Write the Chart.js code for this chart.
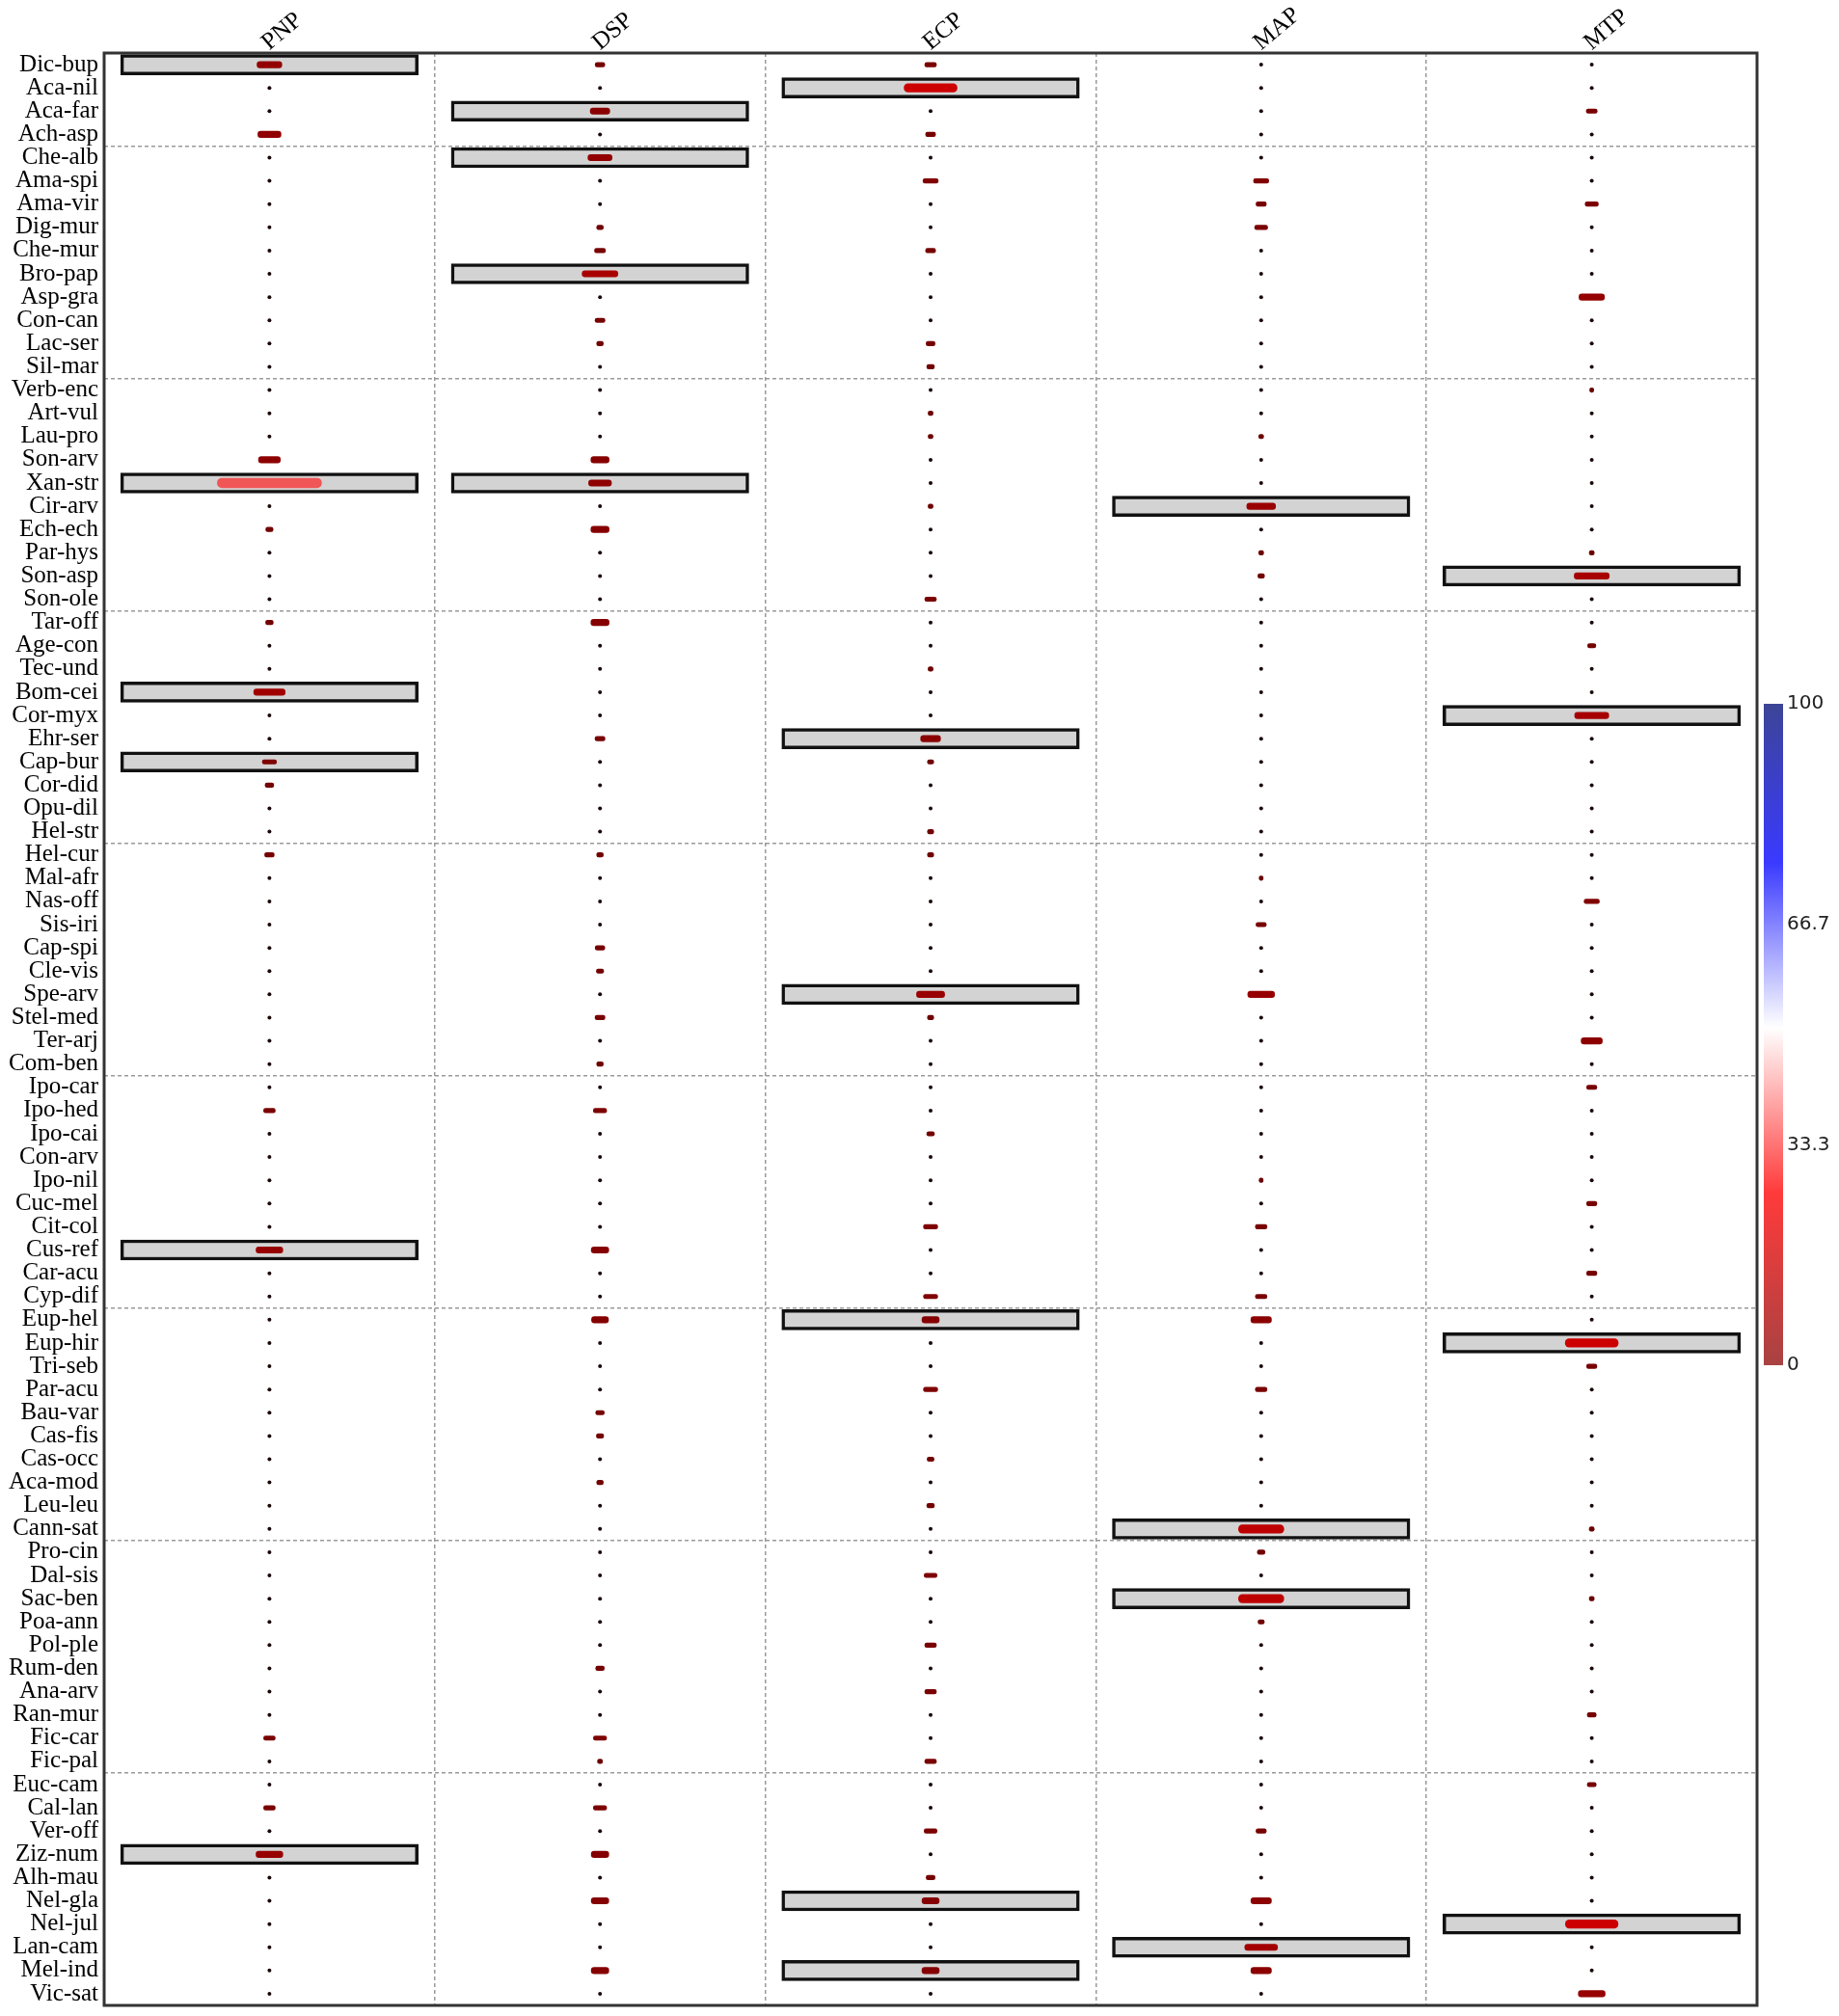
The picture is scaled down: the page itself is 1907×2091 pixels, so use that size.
<!DOCTYPE html>
<html>
<head>
<meta charset="utf-8">
<script src="https://cdn.jsdelivr.net/npm/chart.js@4.4.1/dist/chart.umd.min.js"></script>
<style>
  html, body { margin: 0; padding: 0; background: #fff; }
  #area { width: 1907px; height: 2091px; }
</style>
</head>
<body>
<div id="area"><canvas id="grafico" width="1907" height="2091"></canvas></div>
<script>
// Espécies (linhas), de cima para baixo
const especies = [
  "Dic-bup", "Aca-nil", "Aca-far", "Ach-asp",
  "Che-alb", "Ama-spi", "Ama-vir", "Dig-mur", "Che-mur", "Bro-pap", "Asp-gra", "Con-can", "Lac-ser", "Sil-mar",
  "Verb-enc", "Art-vul", "Lau-pro", "Son-arv", "Xan-str", "Cir-arv", "Ech-ech", "Par-hys", "Son-asp", "Son-ole",
  "Tar-off", "Age-con", "Tec-und", "Bom-cei", "Cor-myx", "Ehr-ser", "Cap-bur", "Cor-did", "Opu-dil", "Hel-str",
  "Hel-cur", "Mal-afr", "Nas-off", "Sis-iri", "Cap-spi", "Cle-vis", "Spe-arv", "Stel-med", "Ter-arj", "Com-ben",
  "Ipo-car", "Ipo-hed", "Ipo-cai", "Con-arv", "Ipo-nil", "Cuc-mel", "Cit-col", "Cus-ref", "Car-acu", "Cyp-dif",
  "Eup-hel", "Eup-hir", "Tri-seb", "Par-acu", "Bau-var", "Cas-fis", "Cas-occ", "Aca-mod", "Leu-leu", "Cann-sat",
  "Pro-cin", "Dal-sis", "Sac-ben", "Poa-ann", "Pol-ple", "Rum-den", "Ana-arv", "Ran-mur", "Fic-car", "Fic-pal",
  "Euc-cam", "Cal-lan", "Ver-off", "Ziz-num", "Alh-mau", "Nel-gla", "Nel-jul", "Lan-cam", "Mel-ind", "Vic-sat"
];

const colunas = ["PNP", "DSP", "ECP", "MAP", "MTP"];

// Primeira espécie de cada grupo (linha tracejada acima dela)
const inicioGrupos = ["Che-alb", "Verb-enc", "Tar-off", "Hel-cur", "Ipo-car", "Eup-hel", "Pro-cin", "Euc-cam"];

// Valores por coluna (mesma ordem de especies)
const valoresPNP = [
  7.5, 0, 0, 7,
  0, 0, 0, 0, 0, 0, 0, 0, 0, 0,
  0, 0, 0, 6.6, 31.5, 0, 2.2, 0, 0, 0,
  2.3, 0, 0, 9.5, 0, 0, 4.3, 2.6, 0, 0,
  2.9, 0, 0, 0, 0, 0, 0, 0, 0, 0,
  0, 3.5, 0, 0, 0, 0, 0, 8.1, 0, 0,
  0, 0, 0, 0, 0, 0, 0, 0, 0, 0,
  0, 0, 0, 0, 0, 0, 0, 0, 3.5, 0,
  0, 3.5, 0, 8.1, 0, 0, 0, 0, 0, 0
];
const valoresDSP = [
  2.9, 0, 5.9, 0,
  7.3, 0, 0, 2.0, 3.3, 10.8, 0, 3.0, 2.0, 0,
  0, 0, 0, 5.5, 6.9, 0, 5.5, 0, 0, 0,
  5.5, 0, 0, 0, 0, 3.0, 0, 0, 0, 0,
  2.0, 0, 0, 0, 2.9, 2.2, 0, 3.0, 0, 2.0,
  0, 4.0, 0, 0, 0, 0, 0, 5.3, 0, 0,
  5.1, 0, 0, 0, 2.6, 2.2, 0, 2.0, 0, 0,
  0, 0, 0, 0, 0, 2.6, 0, 0, 4.0, 1.5,
  0, 4.0, 0, 5.3, 0, 5.3, 0, 0, 5.3, 0
];
const valoresECP = [
  3.5, 16, 0, 3.0,
  0, 4.6, 0, 0, 3.0, 0, 0, 0, 2.7, 2.3,
  0, 1.5, 1.5, 0, 0, 1.5, 0, 0, 0, 3.5,
  0, 0, 1.5, 0, 0, 6.0, 1.9, 0, 0, 1.9,
  1.9, 0, 0, 0, 0, 0, 8.5, 1.9, 0, 0,
  0, 0, 2.3, 0, 0, 0, 4.3, 0, 0, 4.3,
  5.2, 0, 0, 4.3, 0, 0, 2.1, 0, 2.3, 0,
  0, 3.9, 0, 0, 3.5, 0, 3.5, 0, 0, 3.5,
  0, 0, 3.9, 0, 2.7, 5.2, 0, 0, 5.2, 0
];
const valoresMAP = [
  0, 0, 0, 0,
  0, 4.6, 3.1, 3.9, 0, 0, 0, 0, 0, 0,
  0, 0, 1.5, 0, 0, 8.7, 0, 1.5, 2.0, 0,
  0, 0, 0, 0, 0, 0, 0, 0, 0, 0,
  0, 1.2, 0, 3.1, 0, 0, 8.1, 0, 0, 0,
  0, 0, 0, 0, 1.2, 0, 3.5, 0, 0, 3.5,
  6.2, 0, 0, 3.5, 0, 0, 0, 0, 0, 13.7,
  2.3, 0, 13.7, 1.9, 0, 0, 0, 0, 0, 0,
  0, 0, 3.1, 0, 0, 6.2, 0, 9.9, 6.2, 0
];
const valoresMTP = [
  0, 0, 3.3, 0,
  0, 0, 4.0, 0, 0, 0, 7.7, 0, 0, 0,
  1.2, 0, 0, 0, 0, 0, 0, 1.5, 10.6, 0,
  0, 2.5, 0, 0, 10.3, 0, 0, 0, 0, 0,
  0, 0, 4.6, 0, 0, 0, 0, 0, 6.4, 0,
  3.1, 0, 0, 0, 0, 3.1, 0, 0, 3.1, 0,
  0, 16, 3.1, 0, 0, 0, 0, 0, 0, 1.5,
  0, 0, 1.5, 0, 0, 0, 0, 2.7, 0, 0,
  2.7, 0, 0, 0, 0, 0, 15.9, 0, 0, 8.1
];

// Células destacadas (caixa cinza) por coluna
const destaquePNP = ["Dic-bup", "Xan-str", "Bom-cei", "Cap-bur", "Cus-ref", "Ziz-num"];
const destaqueDSP = ["Aca-far", "Che-alb", "Bro-pap", "Xan-str"];
const destaqueECP = ["Aca-nil", "Ehr-ser", "Spe-arv", "Eup-hel", "Nel-gla", "Mel-ind"];
const destaqueMAP = ["Cir-arv", "Cann-sat", "Sac-ben", "Lan-cam"];
const destaqueMTP = ["Son-asp", "Cor-myx", "Eup-hir", "Nel-jul"];

// Escala de cores (legenda)
const escalaTicks = [0, 33.3, 66.7, 100];

const valores = [valoresPNP, valoresDSP, valoresECP, valoresMAP, valoresMTP];
const destaques = [destaquePNP, destaqueDSP, destaqueECP, destaqueMAP, destaqueMTP];

const paradasBarra = [
  [0, "#a84242"], [0.26, "#ff3a3a"], [0.51, "#ffffff"], [0.76, "#3a3aff"], [1, "#3c4496"]
];
const rampaElipse = [
  [0, [100, 0, 0]], [8, [150, 0, 0]], [16, [205, 0, 0]], [24, [232, 50, 50]], [34, [244, 98, 98]]
];

function corElipse(v) {
  for (let i = 1; i < rampaElipse.length; i++) {
    const [v1, c1] = rampaElipse[i];
    const [v0, c0] = rampaElipse[i - 1];
    if (v <= v1 || i === rampaElipse.length - 1) {
      const t = Math.max(0, Math.min(1, (v - v0) / (v1 - v0)));
      const c = c0.map((x, k) => Math.round(x + (c1[k] - x) * t));
      return `rgb(${c[0]},${c[1]},${c[2]})`;
    }
  }
}

// espessura das elipses por faixa de valor
const faixas = [
  { min: 0, max: 5, alt: 4.5 },
  { min: 5, max: 12, alt: 6.5 },
  { min: 12, max: 20, alt: 8.5 },
  { min: 20, max: 999, alt: 10 }
];

const datasets = [];
colunas.forEach((col, c) => {
  datasets.push({
    type: "bar", indexAxis: "y", grouped: false, order: 3,
    xAxisID: "x", yAxisID: "y",
    data: especies.map(e => destaques[c].includes(e) ? [c + 0.05, c + 0.95] : null),
    backgroundColor: "#d3d3d3",
    borderColor: "#111",
    borderWidth: 3.5,
    borderSkipped: false,
    categoryPercentage: 1, barPercentage: 1, maxBarThickness: 21
  });
  faixas.forEach(f => {
    datasets.push({
      type: "bar", indexAxis: "y", grouped: false, order: 1,
      xAxisID: "x", yAxisID: "y",
      data: valores[c].map(v => (v > 0 && v >= f.min && v < f.max) ? [c + 0.5 - v / 200, c + 0.5 + v / 200] : null),
      backgroundColor: ctx => corElipse(valores[c][ctx.dataIndex]),
      borderWidth: 0,
      borderRadius: 20,
      borderSkipped: false,
      categoryPercentage: 1, barPercentage: 1, maxBarThickness: f.alt
    });
  });
});

datasets.push({
  type: "scatter", order: 2,
  xAxisID: "x", yAxisID: "y",
  data: colunas.flatMap((col, c) => especies.map(e => ({ x: c + 0.5, y: e }))),
  pointRadius: 2,
  pointHoverRadius: 2,
  backgroundColor: "#1a0808",
  borderWidth: 0
});

const molduraEEscala = {
  id: "molduraEEscala",
  afterDraw(chart) {
    const { ctx, chartArea: a } = chart;
    ctx.save();
    ctx.strokeStyle = "#333";
    ctx.lineWidth = 3;
    ctx.strokeRect(a.left, a.top, a.right - a.left, a.bottom - a.top);

    // barra de cores à direita
    const x0 = a.right + 7, w = 20, yTopo = 730, yBase = 1416;
    const grad = ctx.createLinearGradient(0, yBase, 0, yTopo);
    paradasBarra.forEach(([p, cor]) => grad.addColorStop(p, cor));
    ctx.fillStyle = grad;
    ctx.fillRect(x0, yTopo, w, yBase - yTopo);
    ctx.fillStyle = "#222";
    ctx.font = "20px 'DejaVu Sans'";
    ctx.textBaseline = "middle";
    ctx.textAlign = "left";
    escalaTicks.forEach(t => {
      const y = yBase - (t / 100) * (yBase - yTopo);
      ctx.fillText(String(t), x0 + w + 4, y);
    });
    ctx.restore();
  }
};

const fonteRotulo = { family: "'Liberation Serif', 'Times New Roman', serif", size: 25 };

new Chart(document.getElementById("grafico"), {
  type: "bar",
  data: { labels: especies, datasets },
  options: {
    responsive: false,
    devicePixelRatio: 1,
    animation: false,
    layout: { autoPadding: false, padding: { left: 0, top: 0, right: 85, bottom: 11 } },
    plugins: { legend: { display: false }, tooltip: { enabled: false } },
    scales: {
      x: {
        type: "linear", min: 0, max: 5, position: "bottom", offset: false,
        ticks: { display: false, stepSize: 1 },
        grid: {
          offset: false,
          drawTicks: false,
          lineWidth: 1.5,
          color: ctx => (ctx.tick && ctx.tick.value > 0 && ctx.tick.value < 5) ? "#9a9a9a" : "rgba(0,0,0,0)"
        },
        border: { display: false, dash: [4, 3] },
        afterFit: s => { s.height = 0; }
      },
      xTop: {
        type: "category", labels: colunas, position: "top", offset: true,
        grid: { display: false, drawTicks: false },
        border: { display: false },
        ticks: { minRotation: 40, maxRotation: 40, font: fonteRotulo, color: "#000", padding: -4, labelOffset: 15 },
        afterFit: s => { s.height = 55; }
      },
      y: {
        type: "category", labels: especies, offset: true,
        grid: {
          offset: true,
          drawTicks: false,
          lineWidth: 1.5,
          color: ctx => inicioGrupos.includes(especies[ctx.index]) ? "#9a9a9a" : "rgba(0,0,0,0)"
        },
        border: { display: false, dash: [4, 3] },
        ticks: { autoSkip: false, font: fonteRotulo, color: "#000", padding: 6 },
        afterFit: s => { s.width = 108; s.paddingTop = 0; s.paddingBottom = 0; }
      }
    }
  },
  plugins: [molduraEEscala]
});
</script>
</body>
</html>
